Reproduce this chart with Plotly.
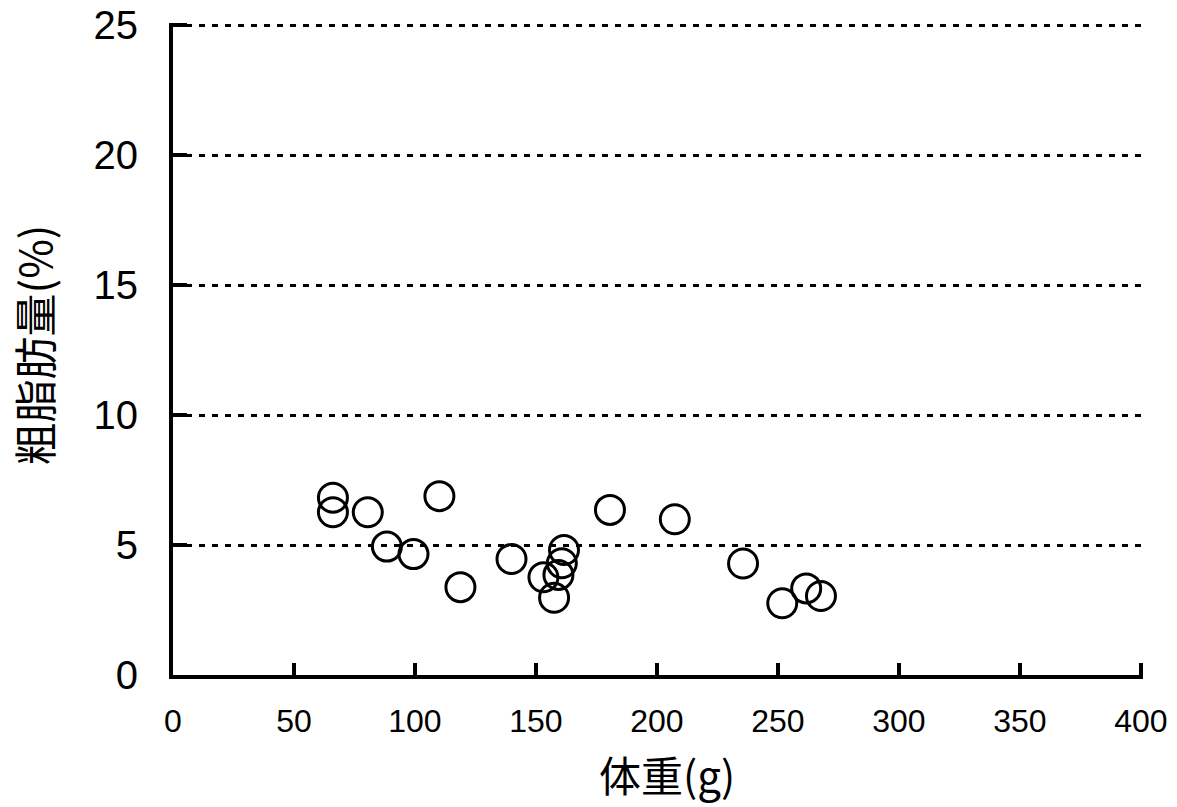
import plotly.graph_objects as go

body_weight = [66.1, 66.1, 80.5, 88.4, 99.4, 110.1, 118.8, 139.9, 153.1, 157.5,
               159.3, 160.7, 161.6, 180.6, 207.4, 235.6, 251.8, 261.7, 267.8]
crude_fat = [6.82, 6.26, 6.26, 4.94, 4.65, 6.88, 3.38, 4.46, 3.76, 2.97,
             3.85, 4.30, 4.81, 6.35, 5.99, 4.29, 2.76, 3.33, 3.04]

x_ticks = [0, 50, 100, 150, 200, 250, 300, 350, 400]
y_ticks = [0, 5, 10, 15, 20, 25]
x_title = "体重(g)"
y_title = "粗脂肪量(%)"

FONT = "Noto Sans CJK JP"
TICK_FONT = "Liberation Sans"

fig = go.Figure()
fig.add_trace(go.Scatter(
    x=body_weight, y=crude_fat, mode="markers",
    marker=dict(symbol="circle-open", size=29, color="black",
                line=dict(width=3, color="black")),
    showlegend=False, cliponaxis=False,
))

fig.update_layout(
    width=1177, height=807,
    margin=dict(l=165, r=42, t=15, b=140, autoexpand=False),
    paper_bgcolor="white", plot_bgcolor="white",
    font=dict(family=FONT, color="black"),
    xaxis=dict(
        range=[0, 400.9], tickvals=x_ticks, ticktext=[str(v) for v in x_ticks],
        showgrid=False, zeroline=False, automargin=False,
        showline=True, linecolor="black", linewidth=4,
        ticks="inside", ticklen=12, tickwidth=4, tickcolor="black",
        tickfont=dict(family=TICK_FONT, size=32, color="black"),
        ticklabelstandoff=15, ticklabeloverflow="allow",
        fixedrange=True,
    ),
    yaxis=dict(
        range=[0, 25.08], tickvals=y_ticks, ticktext=[str(v) for v in y_ticks],
        showgrid=True, gridcolor="black", gridwidth=3, griddash="6px,7px",
        zeroline=False, automargin=False,
        showline=True, linecolor="black", linewidth=4,
        ticks="inside", ticklen=14, tickwidth=4, tickcolor="black",
        tickfont=dict(family=TICK_FONT, size=40, color="black"),
        ticklabelstandoff=23, ticklabeloverflow="allow",
        fixedrange=True,
    ),
    annotations=[
        dict(text=x_title, xref="paper", yref="paper", x=0.509, y=-0.151,
             xanchor="center", yanchor="middle", showarrow=False,
             font=dict(family=FONT, size=42, color="black")),
        dict(text=y_title, xref="paper", yref="paper", x=-0.144, y=0.506,
             xanchor="center", yanchor="middle", showarrow=False, textangle=-90,
             font=dict(family=FONT, size=43, color="black")),
    ],
)

fig.write_html("out.html")
